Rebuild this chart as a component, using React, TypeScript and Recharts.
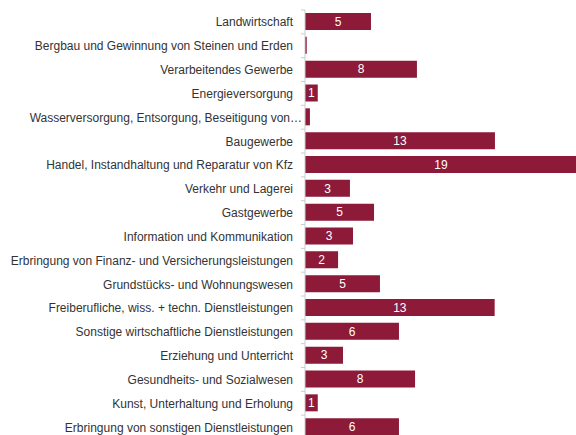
import { BarChart, Bar, XAxis, YAxis, LabelList } from "recharts";

const sectors = [
  "Landwirtschaft",
  "Bergbau und Gewinnung von Steinen und Erden",
  "Verarbeitendes Gewerbe",
  "Energieversorgung",
  "Wasserversorgung, Entsorgung, Beseitigung von…",
  "Baugewerbe",
  "Handel, Instandhaltung und Reparatur von Kfz",
  "Verkehr und Lagerei",
  "Gastgewerbe",
  "Information und Kommunikation",
  "Erbringung von Finanz- und Versicherungsleistungen",
  "Grundstücks- und Wohnungswesen",
  "Freiberufliche, wiss. + techn. Dienstleistungen",
  "Sonstige wirtschaftliche Dienstleistungen",
  "Erziehung und Unterricht",
  "Gesundheits- und Sozialwesen",
  "Kunst, Unterhaltung und Erholung",
  "Erbringung von sonstigen Dienstleistungen",
];

const shares = [
  4.55, 0.12, 7.72, 0.88, 0.34, 13.1, 18.75, 3.1, 4.76, 3.31, 2.28, 5.17, 13.08,
  6.48, 2.62, 7.59, 0.88, 6.48,
];

const data = sectors.map((name, i) => ({ name, value: shares[i] }));

const BAND = 429 / 18;
const AXIS_X = 305;

// category label plus a small tick at the band boundary above it
function SectorTick(props: any) {
  const { y, payload } = props;
  // truncated labels run right up to the axis
  const clipped = String(payload.value).endsWith("…");
  return (
    <g>
      <line x1={AXIS_X - 4} x2={AXIS_X} y1={y - BAND / 2} y2={y - BAND / 2} stroke="#ccc" />
      <text
        x={clipped ? AXIS_X - 3 : AXIS_X - 12}
        y={y}
        dy={4.5}
        textAnchor="end"
        fontSize={12}
        fill="#333"
        fontFamily="'Liberation Sans', Arial, sans-serif"
      >
        {payload.value}
      </text>
    </g>
  );
}

export default function App() {
  return (
    <div style={{ position: "fixed", left: 0, top: 0, width: 576, height: 435, overflow: "hidden", background: "#fff" }}>
      <BarChart
        width={595}
        height={460}
        data={data}
        layout="vertical"
        margin={{ top: 10, right: 0, bottom: 21, left: 0 }}
        barCategoryGap={0}
      >
        <XAxis type="number" domain={[0, 20]} hide />
        <YAxis
          type="category"
          dataKey="name"
          width={AXIS_X}
          interval={0}
          tickLine={false}
          axisLine={{ stroke: "#ccc" }}
          tick={<SectorTick />}
        />
        <Bar dataKey="value" fill="#8c1a38" barSize={17} isAnimationActive={false}>
          <LabelList
            dataKey="value"
            position="center"
            fill="#fff"
            fontSize={12}
            fontFamily="'Liberation Sans', Arial, sans-serif"
            formatter={(v: any) => (Math.round(Number(v)) === 0 ? "" : String(Math.round(Number(v))))}
          />
        </Bar>
      </BarChart>
    </div>
  );
}
